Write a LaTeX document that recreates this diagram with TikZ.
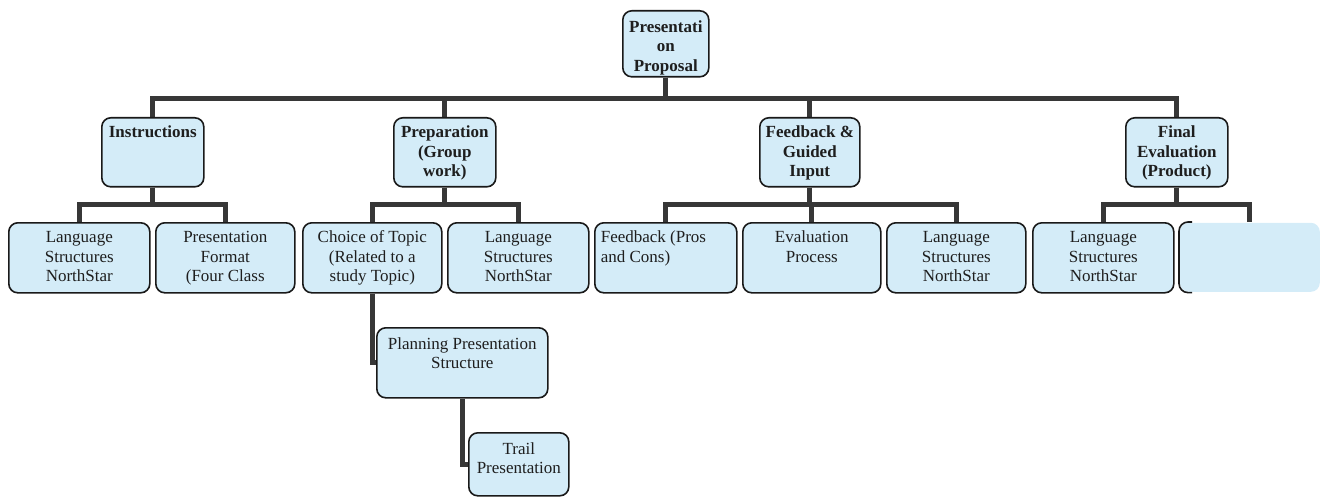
\documentclass[tikz,border=0pt]{standalone}
\usepackage{fontspec}
\setmainfont{Liberation Serif}
\usetikzlibrary{backgrounds,calc}
\definecolor{boxfill}{RGB}{212,236,248}
\definecolor{boxline}{RGB}{25,25,25}
\definecolor{connc}{RGB}{55,55,55}
\definecolor{txtc}{RGB}{30,30,30}
\newcommand\bxt[4]{\parbox[c][#2pt][t]{#1pt}{\centering\rule{0pt}{#3pt}#4}}
\newcommand\bxl[4]{\parbox[c][#2pt][t]{#1pt}{\raggedright\leftskip=6pt\rule{0pt}{#3pt}#4}}
\tikzset{
  box/.style={draw=boxline, line width=1.6pt, fill=boxfill, rounded corners=9pt,
    inner sep=0pt, anchor=north west, text=txtc, font=\fontsize{17}{19.4}\selectfont},
  boldbox/.style={box, font=\fontsize{17}{19.4}\selectfont\bfseries},
  conn/.style={draw=connc, line width=5pt, line join=miter}
}
\begin{document}
\begin{tikzpicture}[x=1pt,y=-1pt]
\useasboundingbox (0,0) rectangle (1324,497);
\coordinate (bus0) at (0,99);
\coordinate (bus1) at (0,204);
% root
\node[boldbox] (root) at (622,10) {\bxt{86}{66}{21.5}{Presentati\\on\\Proposal}};
% level 1
\node[boldbox] (instr) at (101,117) {\bxt{102}{69}{20}{Instructions}};
\node[boldbox] (prep) at (393,117) {\bxt{102}{69}{20}{Preparation\\(Group\\work)}};
\node[boldbox] (feed) at (759,117) {\bxt{100}{69}{20}{Feedback \&\\Guided\\Input}};
\node[boldbox] (final) at (1125,117) {\bxt{102}{69}{20}{Final\\Evaluation\\(Product)}};
% level 2
\node[box] (lang1) at (8,222) {\bxt{141}{70}{20}{Language\\Structures\\NorthStar}};
\node[box] (pform) at (155,222) {\bxt{139}{70}{20}{Presentation\\Format\\(Four Class}};
\node[box] (choice) at (302,222) {\bxt{139}{70}{20}{Choice of Topic\\(Related to a\\study Topic)}};
\node[box] (lang2) at (447,222) {\bxt{141}{70}{20}{Language\\Structures\\NorthStar}};
\node[box] (fpros) at (594,222) {\bxl{142}{70}{20}{Feedback (Pros\\and Cons)}};
\node[box] (evalp) at (742,222) {\bxt{138}{70}{20}{Evaluation\\Process}};
\node[box] (lang3) at (886,222) {\bxt{139}{70}{20}{Language\\Structures\\NorthStar}};
\node[box] (lang4) at (1032,222) {\bxt{141}{70}{20}{Language\\Structures\\NorthStar}};
\node[box, draw=none] (blank) at (1179,222) {\bxt{140}{69}{20}{}};
\draw[draw=boxline, line width=1.6pt, rounded corners=9pt]
  ($(blank.north west)+(13,0)$) -- (blank.north west) -- (blank.south west) -- ($(blank.south west)+(13,0)$);
% lower
\node[box] (plan) at (376,327) {\bxt{171}{70}{21.6}{Planning Presentation\\Structure}};
\node[box] (trail) at (468,432) {\bxt{100}{63}{21.6}{Trail\\Presentation}};
% connectors
\begin{scope}[on background layer]
\foreach \c in {instr,prep,feed,final}
  \draw[conn] (root.south) -- (root.south |- bus0) -| (\c.north);
\foreach \c in {lang1,pform}
  \draw[conn] (instr.south) -- (instr.south |- bus1) -| (\c.north);
\foreach \c in {choice,lang2}
  \draw[conn] (prep.south) -- (prep.south |- bus1) -| (\c.north);
\foreach \c in {fpros,evalp,lang3}
  \draw[conn] (feed.south) -- (feed.south |- bus1) -| (\c.north);
\foreach \c in {lang4,blank}
  \draw[conn] (final.south) -- (final.south |- bus1) -| (\c.north);
\draw[conn] (choice.south) |- (plan.west);
\draw[conn] (plan.south) |- (trail.west);
\end{scope}
\end{tikzpicture}
\end{document}
